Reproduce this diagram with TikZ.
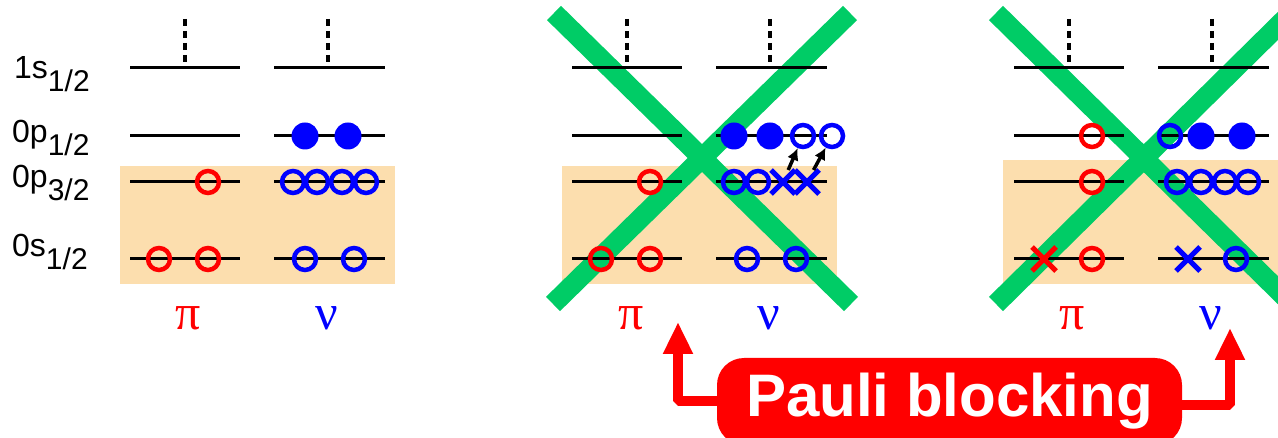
\documentclass[tikz,border=0pt]{standalone}
\usepackage{fontspec}
\setmainfont{Liberation Sans}
\newfontfamily\greekfont{Liberation Serif}
\usetikzlibrary{arrows.meta,shapes.misc}
\definecolor{shell}{RGB}{252,222,174}
\definecolor{blockgreen}{RGB}{0,204,102}
\newcommand\lsub[1]{\raisebox{-13pt}{\fontsize{30}{30}\selectfont #1}}
\tikzset{
  level/.style={line width=3pt},
  gapline/.style={line width=4.5pt,dash pattern=on 7pt off 5pt},
  nuc/.style={circle,draw,line width=4.5pt,minimum size=22pt,inner sep=0pt},
  nucfull/.style={circle,fill,minimum size=27pt,inner sep=0pt},
  gone/.style={cross out,draw,line width=5pt,minimum size=19pt,inner sep=0pt},
  bar/.style={blockgreen,line width=20pt},
  kick/.style={line width=3.5pt,-{Latex[length=12pt,width=12pt]}},
  lbl/.style={anchor=base west,inner sep=0pt,font=\fontsize{32}{32}\selectfont},
  iso/.style={anchor=base,inner sep=0pt,font=\greekfont\fontsize{50}{50}\selectfont},
  pauliarrow/.style={red,line width=10pt,line join=bevel,-{Triangle[length=32pt,width=28pt]}}
}
\begin{document}
\begin{tikzpicture}[x=1pt,y=-1pt]
  \useasboundingbox (0,0) rectangle (1278,438);
  \fill[shell] (120,166) rectangle (395,284); \fill[shell] (562,166) rectangle (837,284); \fill[shell] (1003,160) rectangle (1278,284);
  \draw[bar] (554,13) -- (851,304) (850,13) -- (553,304);
  \draw[bar] (996,13) -- (1292,304) (1291,13) -- (996,304);
  \foreach \s in {0,442,884} {
    \foreach \y in {68,136,182,259} \draw[level] (130+\s,\y) -- (240+\s,\y) (274+\s,\y) -- (385+\s,\y);
    \draw[gapline] (185+\s,19) -- (185+\s,62) (328+\s,19) -- (328+\s,62);
  }
  \node[lbl] (l1s) at (14,79) {1s\lsub{1/2}}; \node[lbl] (l0p1) at (12,143) {0p\lsub{1/2}};
  \node[lbl] (l0p3) at (12,188) {0p\lsub{3/2}}; \node[lbl] (l0s) at (12,257) {0s\lsub{1/2}};
  % ground state
  \node[nuc,red] (a1) at (208,182) {}; \node[nuc,red] (a2) at (159,259) {}; \node[nuc,red] (a3) at (208,259) {};
  \node[nucfull,blue] (a4) at (305,136) {}; \node[nucfull,blue] (a5) at (348,136) {};
  \foreach \x [count=\i] in {293,317,342,366} \node[nuc,blue] (an\i) at (\x,182) {};
  \node[nuc,blue] (a6) at (305,259) {}; \node[nuc,blue] (a7) at (354,259) {};
  % excited
  \node[nuc,red] (b1) at (650,182) {}; \node[nuc,red] (b2) at (601,259) {}; \node[nuc,red] (b3) at (650,259) {};
  \node[nucfull,blue] (b4) at (734,136) {}; \node[nucfull,blue] (b5) at (770,136) {};
  \node[nuc,blue] (h1) at (803,136) {}; \node[nuc,blue] (h2) at (832,136) {};
  \node[nuc,blue] (b6) at (734,182) {}; \node[nuc,blue] (b7) at (758,182) {};
  \node[gone,blue] (c1) at (783,182) {}; \node[gone,blue] (c2) at (807,182) {};
  \node[nuc,blue] (b8) at (747,259) {}; \node[nuc,blue] (b9) at (796,259) {};
  \draw[kick] (c1) -- (h1); \draw[kick] (c2) -- (h2);
  % excited, other
  \node[nuc,red] (d1) at (1092,136) {}; \node[nuc,red] (d2) at (1092,182) {}; \node[nuc,red] (d3) at (1092,259) {};
  \node[gone,red] (d4) at (1044,259) {};
  \node[nuc,blue] (d5) at (1170,136) {}; \node[nucfull,blue] (d6) at (1201,136) {}; \node[nucfull,blue] (d7) at (1242,136) {};
  \foreach \x [count=\i] in {1177,1201,1225,1248} \node[nuc,blue] (dn\i) at (\x,182) {};
  \node[gone,blue] (d8) at (1188,259) {}; \node[nuc,blue] (d9) at (1236,259) {};
  \node[iso,red] (pi1) at (188,330) {π}; \node[iso,blue] (nu1) at (327,330) {ν};
  \node[iso,red] (pi2) at (631,330) {π}; \node[iso,blue] (nu2) at (769,330) {ν};
  \node[iso,red] (pi3) at (1072,330) {π}; \node[iso,blue] (nu3) at (1211,330) {ν};
  \node[fill=red,rounded corners=27pt,text=white,inner sep=0pt,minimum width=465pt,minimum height=87pt,font=\bfseries\fontsize{60}{60}\selectfont] (pauli) at (949.5,401.5) {Pauli blocking};
  \coordinate (ltip) at (678,322); \coordinate (rtip) at (1230,328);
  \draw[pauliarrow] (pauli.west) -| (ltip); \draw[pauliarrow] ([yshift=-4pt]pauli.east) -| (rtip);
\end{tikzpicture}
\end{document}
